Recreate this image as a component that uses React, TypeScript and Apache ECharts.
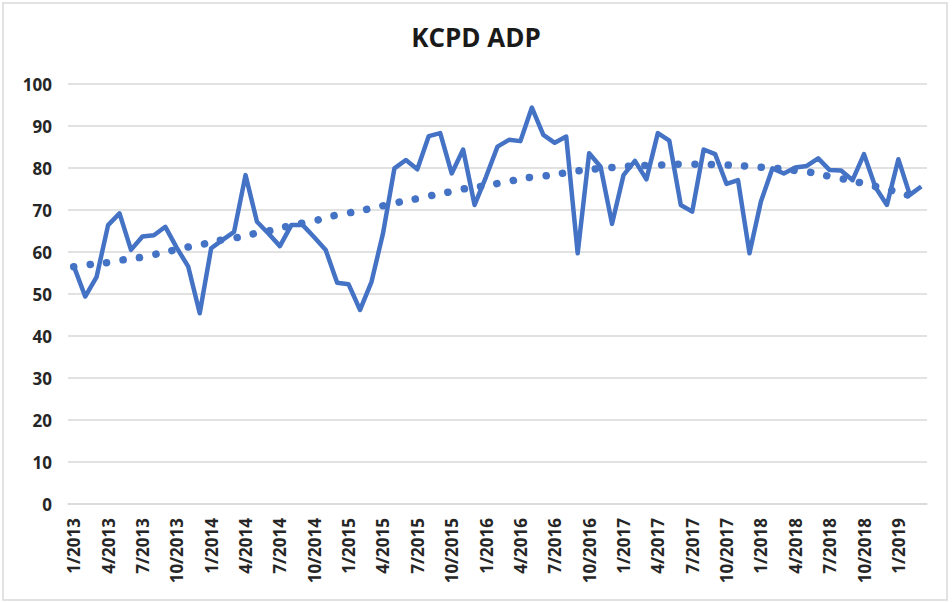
import React, { useEffect, useRef } from "react";
import * as echarts from "echarts";

const TITLE = "KCPD ADP";

const months: string[] = [
  "1/2013", "2/2013", "3/2013", "4/2013", "5/2013", "6/2013", "7/2013", "8/2013", "9/2013", "10/2013", "11/2013", "12/2013",
  "1/2014", "2/2014", "3/2014", "4/2014", "5/2014", "6/2014", "7/2014", "8/2014", "9/2014", "10/2014", "11/2014", "12/2014",
  "1/2015", "2/2015", "3/2015", "4/2015", "5/2015", "6/2015", "7/2015", "8/2015", "9/2015", "10/2015", "11/2015", "12/2015",
  "1/2016", "2/2016", "3/2016", "4/2016", "5/2016", "6/2016", "7/2016", "8/2016", "9/2016", "10/2016", "11/2016", "12/2016",
  "1/2017", "2/2017", "3/2017", "4/2017", "5/2017", "6/2017", "7/2017", "8/2017", "9/2017", "10/2017", "11/2017", "12/2017",
  "1/2018", "2/2018", "3/2018", "4/2018", "5/2018", "6/2018", "7/2018", "8/2018", "9/2018", "10/2018", "11/2018", "12/2018",
  "1/2019", "2/2019", "3/2019",
];

const adp: number[] = [
  56.7, 49.4, 54.1, 66.4, 69.2, 60.5, 63.7, 64.0, 66.0, 61.0, 56.5, 45.4,
  60.9, 62.9, 64.8, 78.3, 67.2, 64.4, 61.4, 66.4, 66.4, 63.5, 60.5, 52.7,
  52.3, 46.2, 52.9, 64.4, 79.9, 81.9, 79.7, 87.6, 88.3, 78.7, 84.4, 71.2,
  77.9, 85.1, 86.7, 86.4, 94.4, 87.9, 86.0, 87.5, 59.7, 83.5, 80.3, 66.7,
  78.3, 81.7, 77.3, 88.3, 86.5, 71.2, 69.6, 84.4, 83.3, 76.2, 77.1, 59.7,
  72.0, 79.9, 78.7, 80.1, 80.5, 82.3, 79.5, 79.4, 77.1, 83.3, 75.4, 71.2,
  82.1, 73.6, 75.6,
];

const trend: number[] = [
  56.5, 56.9, 57.2, 57.5, 58.0, 58.4, 58.8, 59.4, 60.0, 60.6, 61.2, 61.7,
  62.3, 62.9, 63.3, 63.9, 64.5, 65.0, 65.7, 66.3, 66.9, 67.4, 68.2, 68.8,
  69.3, 69.8, 70.4, 71.0, 71.6, 72.2, 72.7, 73.3, 73.9, 74.4, 75.0, 75.4,
  75.8, 76.3, 76.8, 77.4, 77.8, 78.1, 78.4, 78.9, 79.3, 79.6, 79.9, 80.1,
  80.3, 80.5, 80.6, 80.7, 80.8, 80.9, 80.9, 80.9, 80.8, 80.7, 80.6, 80.4,
  80.2, 80.0, 79.7, 79.4, 79.1, 78.6, 78.0, 77.5, 76.9, 76.3, 75.6, 75.0,
  74.2, 73.4, 72.5,
];

export default function App() {
  const ref = useRef<HTMLDivElement>(null);

  useEffect(() => {
    if (!ref.current) return;
    const chart = echarts.init(ref.current, null, { renderer: "svg" });
    const font = "'Open Sans', 'Noto Sans', sans-serif";
    chart.setOption({
      animation: false,
      backgroundColor: "#ffffff",
      textStyle: { fontFamily: font },
      title: {
        text: TITLE,
        left: "center",
        top: 19,
        textStyle: { fontFamily: font, fontSize: 26, fontWeight: "bold", color: "#1a1a1a" },
      },
      graphic: [
        {
          type: "rect",
          shape: { x: 3, y: 3, width: 944, height: 597 },
          style: { fill: "none", stroke: "#d9d9d9", lineWidth: 1.5 },
          silent: true,
        },
      ],
      grid: { left: 68, right: 25, top: 84, bottom: 98, containLabel: false },
      xAxis: {
        type: "category",
        data: months,
        boundaryGap: true,
        axisLine: { show: true, lineStyle: { color: "#d9d9d9", width: 1.5 } },
        axisTick: { show: false },
        axisLabel: {
          interval: 2,
          rotate: 90,
          margin: 14,
          fontFamily: font,
          fontSize: 17,
          fontWeight: "bold",
          color: "#262626",
        },
        splitLine: { show: false },
      },
      yAxis: {
        type: "value",
        min: 0,
        max: 100,
        interval: 10,
        axisLine: { show: false },
        axisTick: { show: false },
        axisLabel: {
          margin: 16,
          fontFamily: font,
          fontSize: 17,
          fontWeight: "bold",
          color: "#262626",
        },
        splitLine: { show: true, lineStyle: { color: "#d9d9d9", width: 1.5 } },
      },
      series: [
        {
          name: "ADP",
          type: "line",
          data: adp,
          symbol: "none",
          lineStyle: { color: "#4472C4", width: 4.5, join: "round" },
          z: 2,
        },
        {
          name: "Trend",
          type: "line",
          data: trend,
          symbol: "none",
          smooth: true,
          lineStyle: { color: "#4472C4", width: 7.5, type: [0.1, 16.5], cap: "round" },
          z: 3,
        },
      ],
    });
    return () => chart.dispose();
  }, []);

  return (
    <div
      ref={ref}
      style={{ position: "absolute", left: 0, top: 0, width: 952, height: 602 }}
    />
  );
}
